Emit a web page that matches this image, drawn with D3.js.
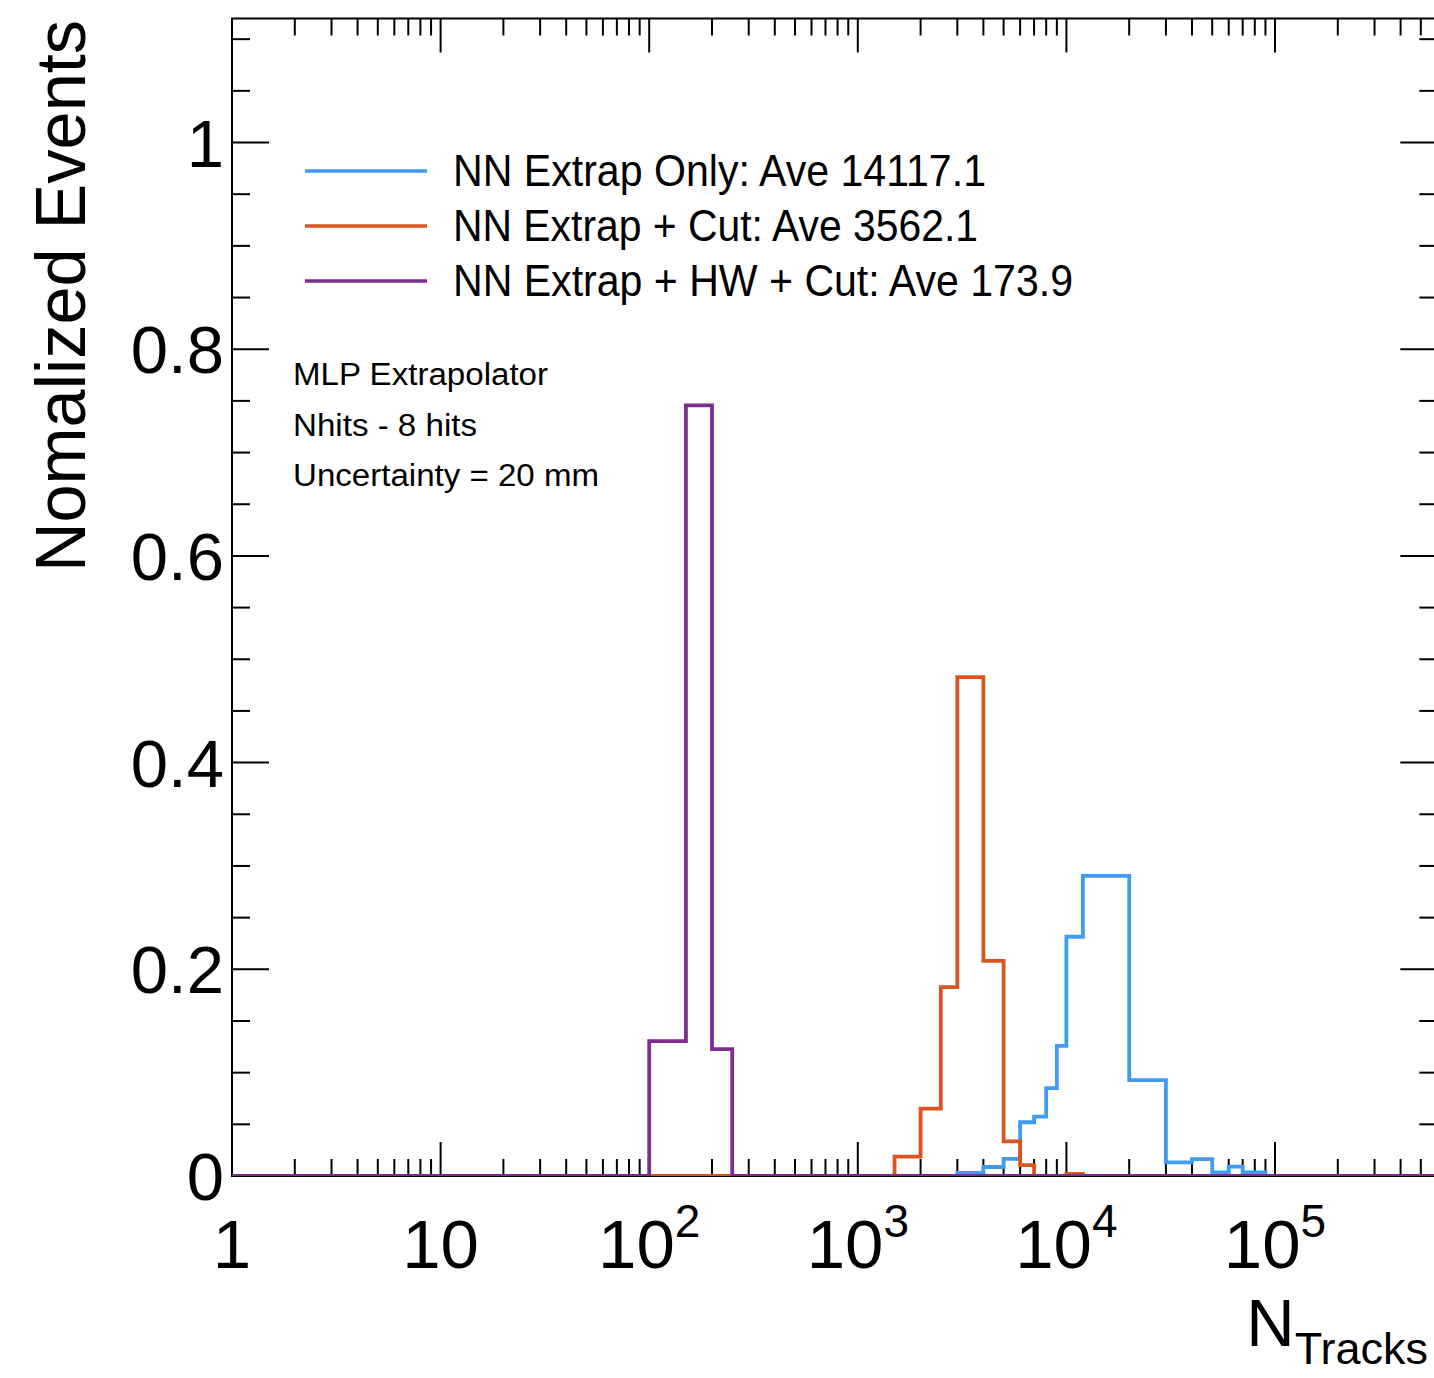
<!DOCTYPE html>
<html>
<head>
<meta charset="utf-8">
<script src="https://cdn.jsdelivr.net/npm/d3@7"></script>
<style>
    body { margin: 0; background: #fff; }
    text { font-family: "Liberation Sans", Arial, Helvetica, sans-serif; fill: #000; }
</style>
</head>
<body>
<script>
// histogram bins (variable width)
var blueEdges = [3000, 4000, 5000, 6000, 7000, 8000, 9000, 10000, 12000, 20000, 30000, 40000, 50000, 60000, 70000, 90000];
var blueValues = [0.003, 0.0087, 0.0165, 0.052, 0.0574, 0.085, 0.126, 0.2315, 0.2904, 0.0928, 0.0132, 0.0164, 0.0036, 0.009, 0.0036];

var orangeEdges = [1500, 2000, 2500, 3000, 4000, 5000, 6000, 7000, 10000, 12000];
var orangeValues = [0.0188, 0.0652, 0.1828, 0.4827, 0.2082, 0.0335, 0.0106, 0, 0.002];

var purpleEdges = [100, 150, 200, 250];
var purpleValues = [0.1306, 0.7456, 0.1228];

var legendLabels = [
    "NN Extrap Only: Ave 14117.1",
    "NN Extrap + Cut: Ave 3562.1",
    "NN Extrap + HW + Cut: Ave 173.9"
];
var infoLines = ["MLP Extrapolator", "Nhits - 8 hits", "Uncertainty = 20 mm"];
var yTickLabels = [0, 0.2, 0.4, 0.6, 0.8, 1];
var xTickPowers = [0, 1, 2, 3, 4, 5];

(function () {
    var width = 1434, height = 1378;
    var xMin = 1, xMax = 6e5, yMax = 1.12;
    var left = 232, top = 18.5, bottom = 1176;
    var decade = 208.6;

    var svg = d3.select("body").append("svg")
        .attr("width", width)
        .attr("height", height);

    var x = d3.scaleLog()
        .domain([xMin, xMax])
        .range([left, left + decade * Math.log10(xMax)]);
    var y = d3.scaleLinear()
        .domain([0, yMax])
        .range([bottom, top]);

    var right = x(xMax);

    svg.append("clipPath").attr("id", "frame")
        .append("rect")
        .attr("x", left).attr("y", top)
        .attr("width", right - left).attr("height", bottom - top);

    // frame
    svg.append("rect")
        .attr("x", left).attr("y", top)
        .attr("width", right - left).attr("height", bottom - top)
        .attr("fill", "none")
        .attr("stroke", "#000")
        .attr("stroke-width", 2);

    // x ticks, bottom and top
    var xMajor = xTickPowers.map(p => Math.pow(10, p));
    var xMinor = [];
    xMajor.forEach(function (m) {
        for (var k = 2; k <= 9; k++) if (m * k <= xMax) xMinor.push(m * k);
    });
    var xTicks = xMajor.map(v => ({ v: v, len: 34 })).concat(xMinor.map(v => ({ v: v, len: 17 })));

    var ticks = svg.append("g").attr("stroke", "#000").attr("stroke-width", 2);
    ticks.selectAll(".xb").data(xTicks).enter().append("line")
        .attr("x1", d => x(d.v)).attr("x2", d => x(d.v))
        .attr("y1", bottom).attr("y2", d => bottom - d.len);
    ticks.selectAll(".xt").data(xTicks).enter().append("line")
        .attr("x1", d => x(d.v)).attr("x2", d => x(d.v))
        .attr("y1", top).attr("y2", d => top + d.len);

    // y ticks, left and right
    var yTicks = d3.range(0, 23).map(function (i) {
        return { v: i * 0.05, len: i % 4 === 0 ? 37 : 18 };
    }).filter(d => d.v <= yMax);
    ticks.selectAll(".yl").data(yTicks).enter().append("line")
        .attr("x1", left).attr("x2", d => left + d.len)
        .attr("y1", d => y(d.v)).attr("y2", d => y(d.v));
    ticks.selectAll(".yr").data(yTicks).enter().append("line")
        .attr("x1", right).attr("x2", d => right - d.len)
        .attr("y1", d => y(d.v)).attr("y2", d => y(d.v));

    // y tick labels
    svg.selectAll(".ylab").data(yTickLabels).enter().append("text")
        .attr("x", 224)
        .attr("y", d => y(d) + 24)
        .attr("text-anchor", "end")
        .attr("font-size", 67)
        .text(d => d);

    // x tick labels
    var xl = svg.selectAll(".xlab").data(xTickPowers).enter().append("text")
        .attr("x", d => x(Math.pow(10, d)))
        .attr("y", 1268)
        .attr("text-anchor", "middle")
        .attr("font-size", 69);
    xl.each(function (p) {
        var t = d3.select(this);
        if (p === 0) t.text("1");
        else if (p === 1) t.text("10");
        else {
            t.append("tspan").text("10");
            t.append("tspan").attr("font-size", 46).attr("dy", -31).text(p);
        }
    });

    // axis titles
    svg.append("text")
        .attr("transform", "translate(85,20) rotate(-90)")
        .attr("text-anchor", "end")
        .attr("font-size", 70)
        .attr("textLength", 552)
        .attr("lengthAdjust", "spacingAndGlyphs")
        .text("Nomalized Events");

    var xt = svg.append("text")
        .attr("x", 1428)
        .attr("y", 1346)
        .attr("text-anchor", "end")
        .attr("font-size", 67);
    xt.append("tspan").text("N");
    xt.append("tspan").attr("font-size", 45).attr("dy", 18).text("Tracks");

    // histograms
    function stepPoints(edges, values) {
        var pts = [[xMin, 0], [edges[0], 0]];
        values.forEach(function (v, i) {
            pts.push([edges[i], v]);
            pts.push([edges[i + 1], v]);
        });
        pts.push([edges[edges.length - 1], 0]);
        pts.push([xMax, 0]);
        return pts;
    }

    var line = d3.line()
        .x(d => x(d[0]))
        .y(d => y(d[1]));

    var series = [
        { edges: blueEdges, values: blueValues, color: "#3f9bf4" },
        { edges: orangeEdges, values: orangeValues, color: "#db5420" },
        { edges: purpleEdges, values: purpleValues, color: "#7d2e8d" }
    ];

    svg.append("g")
        .attr("clip-path", "url(#frame)")
        .selectAll("path")
        .data(series)
        .enter()
          .append("path")
            .attr("d", d => line(stepPoints(d.edges, d.values)))
            .attr("fill", "none")
            .attr("stroke", d => d.color)
            .attr("stroke-width", 3.8)
            .attr("stroke-linejoin", "miter");

    // legend
    var legendY = [171, 226, 281];
    var legendWidths = [533, 525, 620];
    var lg = svg.append("g");
    lg.selectAll("line").data(series).enter().append("line")
        .attr("x1", 305).attr("x2", 427)
        .attr("y1", (d, i) => legendY[i]).attr("y2", (d, i) => legendY[i])
        .attr("stroke", d => d.color)
        .attr("stroke-width", 3.5);
    lg.selectAll("text").data(legendLabels).enter().append("text")
        .attr("x", 453)
        .attr("y", (d, i) => legendY[i] + 15)
        .attr("font-size", 44)
        .attr("textLength", (d, i) => legendWidths[i])
        .attr("lengthAdjust", "spacingAndGlyphs")
        .text(d => d);

    // info text
    var infoWidths = [255, 184, 306];
    svg.selectAll(".info").data(infoLines).enter().append("text")
        .attr("x", 293)
        .attr("y", (d, i) => 385 + i * 50.5)
        .attr("font-size", 31)
        .attr("textLength", (d, i) => infoWidths[i])
        .attr("lengthAdjust", "spacingAndGlyphs")
        .text(d => d);
})();
</script>
</body>
</html>
